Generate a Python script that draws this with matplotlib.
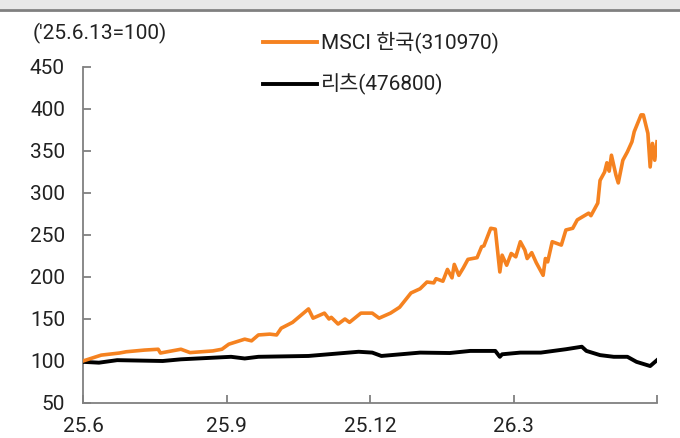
import matplotlib
matplotlib.use("Agg")
import matplotlib.pyplot as plt
from matplotlib.patches import Rectangle
from matplotlib.lines import Line2D

plt.rcParams['font.family'] = ['Roboto', 'Noto Sans CJK KR', 'DejaVu Sans']

# trading-day index (0 = '25.6.13) and index values
msci_x = [0, 8, 16, 19, 27, 33, 34, 43, 47, 57, 61, 64, 71, 74, 77, 82, 85, 87, 92, 99,
          101, 106, 108, 109, 112, 115, 117, 122, 127, 130, 135, 139, 144, 148, 151, 154,
          155, 158, 160, 162, 163, 165, 167, 169, 173, 175, 176, 179, 181, 183, 184, 186,
          188, 190, 192, 194, 195, 197, 199, 202, 203, 204, 206, 210, 212, 215, 217, 222,
          223, 226, 227, 229, 230, 231, 232, 234, 235, 237, 239, 241, 242, 245, 246, 248,
          249, 250, 251, 252]
msci_y = [100, 107, 109.5, 111, 113, 114, 109.5, 114, 110, 112, 114, 120, 126, 124, 131,
          132, 131, 139, 146, 162, 151, 157, 150, 152, 144, 150, 146, 157, 157, 151, 157,
          164, 181, 186, 194, 193, 198, 195, 209, 199, 215, 202, 211, 221, 223, 236, 237,
          258, 257, 206, 226, 214, 228, 224, 242, 232, 222, 229, 217, 202, 222, 218, 242,
          238, 256, 258, 268, 276, 273, 288, 315, 325, 336, 326, 345, 321, 312, 339, 349,
          361, 373, 393, 393, 371, 331, 359, 339, 361]

reit_x = [0, 7, 15, 35, 43, 65, 71, 77, 99, 121, 127, 131, 148, 161, 170, 181, 183, 184,
          192, 201, 212, 219, 221, 227, 233, 239, 243, 249, 252]
reit_y = [99, 98, 101, 100, 102, 105, 103, 105, 106, 111, 110, 106, 110, 109.5, 112, 112,
          105, 108, 110, 110, 114, 117, 112, 107, 105, 105, 99, 94, 101]

tick_pos = [0, 63, 126, 189, 252]
tick_labels = ['25.6', '25.9', '25.12', '26.3', '']
y_ticks = [50, 100, 150, 200, 250, 300, 350, 400, 450]

label_msci = 'MSCI 한국(310970)'
label_reit = '리츠(476800)'
title = "('25.6.13=100)"

orange = '#f58220'
W, H = 680, 438
fig = plt.figure(figsize=(W / 100, H / 100), dpi=100)
fig.patch.set_facecolor('white')

# top grey band
fig.add_artist(Rectangle((0, 1 - 9 / H), 1, 9 / H, transform=fig.transFigure,
                         facecolor='#e8e8e8', edgecolor='none'))
fig.add_artist(Line2D([0, 1], [1 - 10 / H, 1 - 10 / H], transform=fig.transFigure,
                      color='#808080', lw=2))

ax = fig.add_axes([83 / W, 1 - 403 / H, (657 - 83) / W, (403 - 67) / H])
ax.plot(reit_x, reit_y, color='black', lw=2.8, solid_joinstyle='round', zorder=3)
ax.plot(msci_x, msci_y, color=orange, lw=2.6, solid_joinstyle='round', zorder=4)

ax.set_xlim(0, 252)
ax.set_ylim(50, 450)
ax.set_yticks(y_ticks)
ax.set_xticks(tick_pos)
ax.set_xticklabels(tick_labels)
for s in ['top', 'right']:
    ax.spines[s].set_visible(False)
for s in ['left', 'bottom']:
    ax.spines[s].set_color('#808080')
    ax.spines[s].set_linewidth(1.3)
ax.tick_params(axis='both', direction='in', length=6, width=1.3, color='#808080',
               labelsize=15, labelcolor='#222222')
ax.tick_params(axis='y', pad=13)
ax.tick_params(axis='x', pad=10)

fig.text(33 / W, 1 - 33 / H, title, fontsize=15, color='#222222', va='center', ha='left')

# legend
for yy, col, lab in [(42, orange, label_msci), (84, 'black', label_reit)]:
    fig.add_artist(Line2D([263 / W, 317 / W], [1 - yy / H, 1 - yy / H],
                          transform=fig.transFigure, color=col, lw=2.8))
    fig.text(321 / W, 1 - yy / H, lab, fontsize=15, color='#222222', va='center', ha='left')

fig.savefig('out.png', dpi=100)
